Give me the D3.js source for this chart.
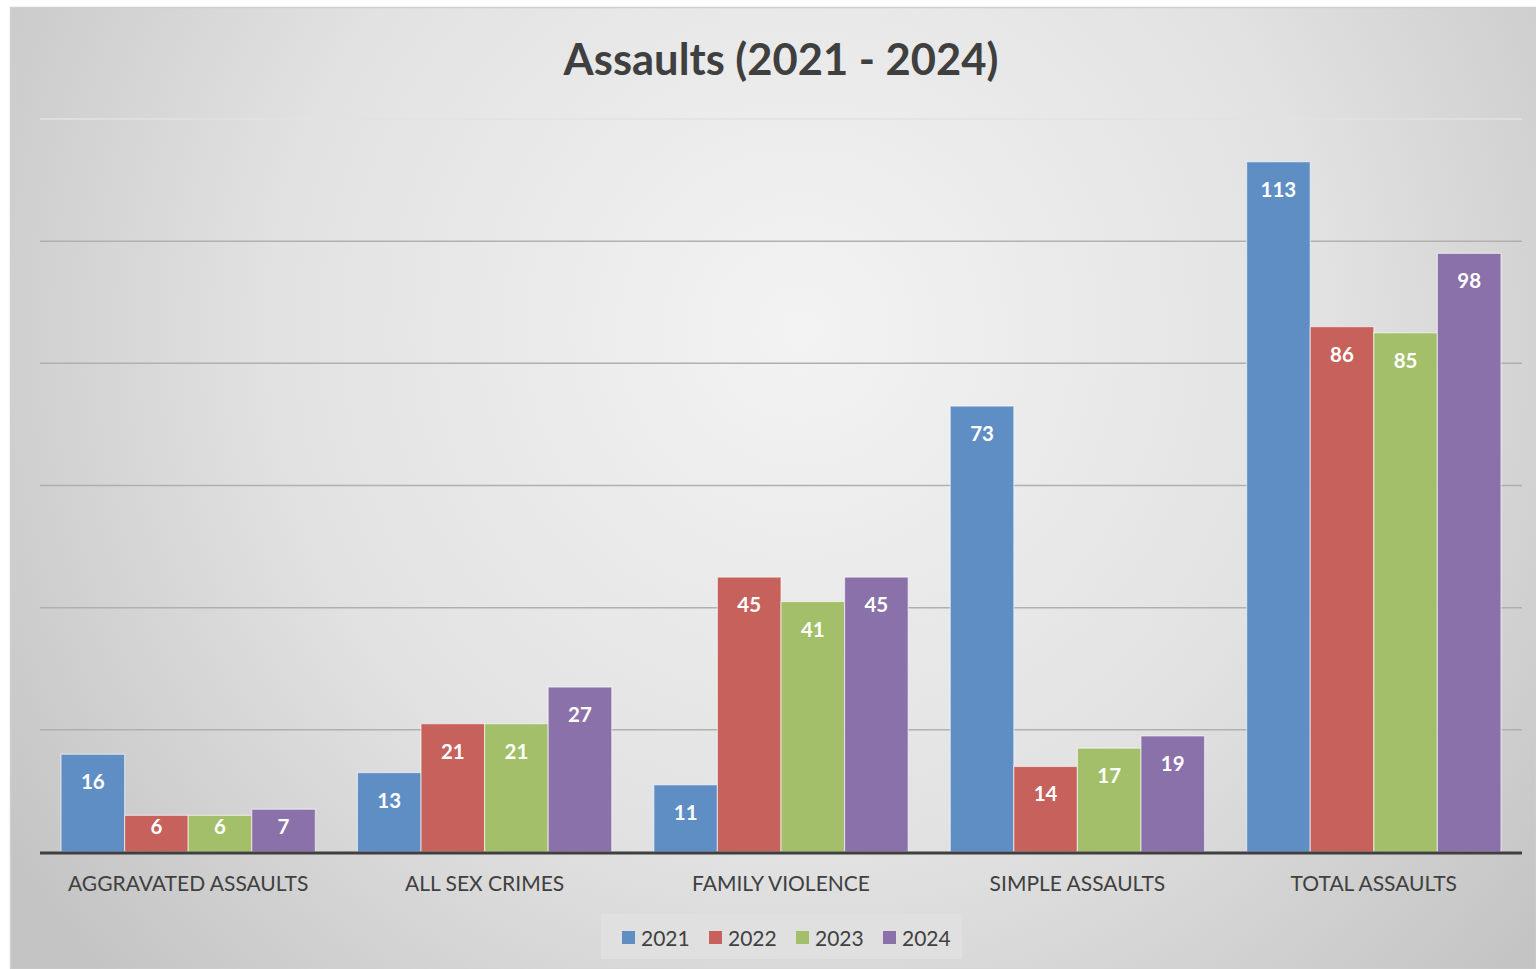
<!DOCTYPE html>
<html><head><meta charset="utf-8">
<script src="https://cdn.jsdelivr.net/npm/d3@7"></script>
<style>html,body{margin:0;padding:0;background:#fff;}svg{display:block;}</style>
</head><body>
<script>
const categories = ["AGGRAVATED ASSAULTS","ALL SEX CRIMES","FAMILY VIOLENCE","SIMPLE ASSAULTS","TOTAL ASSAULTS"];
const seriesNames = ["2021","2022","2023","2024"];
const values2021 = [16,13,11,73,113];
const values2022 = [6,21,45,14,86];
const values2023 = [6,21,41,17,85];
const values2024 = [7,27,45,19,98];
const seriesValues = [values2021, values2022, values2023, values2024];
const colors = ["#5f8ec5","#c6615c","#a3bf69","#8b71aa"];
const yTicks = [0,20,40,60,80,100,120];
const chartTitle = "Assaults (2021 - 2024)";

(function(){
const W = 1536, H = 969;
const font = "Lato, 'Open Sans', sans-serif";
const svg = d3.select("body").append("svg").attr("width", W).attr("height", H);
const defs = svg.append("defs");
const g = defs.append("radialGradient").attr("id","bg").attr("gradientUnits","userSpaceOnUse")
  .attr("cx",800).attr("cy",330).attr("r",950);
g.append("stop").attr("offset","0").attr("stop-color","#f3f3f3");
g.append("stop").attr("offset","0.55").attr("stop-color","#e2e2e2");
g.append("stop").attr("offset","1").attr("stop-color","#c4c4c4");

svg.append("rect").attr("x",10.5).attr("y",7.5).attr("width",W-10).attr("height",H-7)
  .attr("fill","url(#bg)").attr("stroke","#d0d0d0").attr("stroke-width",1.5);

const pLeft = 40, pRight = 1522, pBase = 852, pTop = 119;
const x0 = d3.scaleBand().domain(categories).range([pLeft,pRight]).paddingInner(0.142).paddingOuter(0.071);
const x1 = d3.scaleBand().domain(seriesNames).range([0,x0.bandwidth()]);
const y = d3.scaleLinear().domain([0,120]).range([pBase,pTop]);

svg.append("g").selectAll("line").data(yTicks.filter(t=>t>0)).join("line")
  .attr("x1",pLeft).attr("x2",pRight).attr("y1",d=>y(d)).attr("y2",d=>y(d))
  .attr("stroke",d=>d===120?"#e2e2e2":"#b0b0b0").attr("stroke-width",1.5);

const groups = svg.append("g").selectAll("g").data(categories).join("g")
  .attr("transform",d=>`translate(${x0(d)},0)`);
const barData = (c,i) => seriesNames.map((s,j)=>({s, v: seriesValues[j][i], c:colors[j]}));
groups.each(function(c,i){
  const gg = d3.select(this);
  const bd = barData(c,i);
  gg.selectAll("rect").data(bd).join("rect")
    .attr("x",d=>x1(d.s)).attr("y",d=>y(d.v)).attr("width",x1.bandwidth()).attr("height",d=>pBase-y(d.v))
    .attr("fill",d=>d.c).attr("stroke","rgba(255,255,255,0.55)").attr("stroke-width",1.2);
  gg.selectAll("text").data(bd).join("text")
    .attr("x",d=>x1(d.s)+x1.bandwidth()/2)
    .attr("y",d=>Math.min(y(d.v)+27, pBase-26))
    .attr("text-anchor","middle").attr("dominant-baseline","central")
    .attr("fill","#fff").attr("font-family",font).attr("font-weight","bold").attr("font-size",20.5)
    .text(d=>d.v);
});

svg.append("line").attr("x1",pLeft).attr("x2",pRight).attr("y1",pBase+1).attr("y2",pBase+1)
  .attr("stroke","#3f3f3f").attr("stroke-width",3);

svg.append("g").selectAll("text").data(categories).join("text")
  .attr("x",d=>x0(d)+x0.bandwidth()/2).attr("y",882)
  .attr("text-anchor","middle").attr("dominant-baseline","central")
  .attr("fill","#404040").attr("font-family",font).attr("font-size",21).text(d=>d);

svg.append("text").attr("x",781).attr("y",58).attr("text-anchor","middle").attr("dominant-baseline","central")
  .attr("fill","#3f3f3f").attr("font-family",font).attr("font-weight","bold").attr("font-size",43.5).text(chartTitle);

svg.append("rect").attr("x",601).attr("y",914).attr("width",361).attr("height",45).attr("fill","#e1e1e1").attr("opacity",0.85);
const legX = [622, 709, 796, 883];
const lg = svg.append("g").selectAll("g").data(seriesNames).join("g")
  .attr("transform",(d,i)=>`translate(${legX[i]},937)`);
lg.append("rect").attr("x",0).attr("y",-6).attr("width",13).attr("height",13).attr("fill",(d,i)=>colors[i]);
lg.append("text").attr("x",19).attr("y",0).attr("dominant-baseline","central")
  .attr("fill","#404040").attr("font-family",font).attr("font-size",21).text(d=>d);
})();
</script>
</body></html>
